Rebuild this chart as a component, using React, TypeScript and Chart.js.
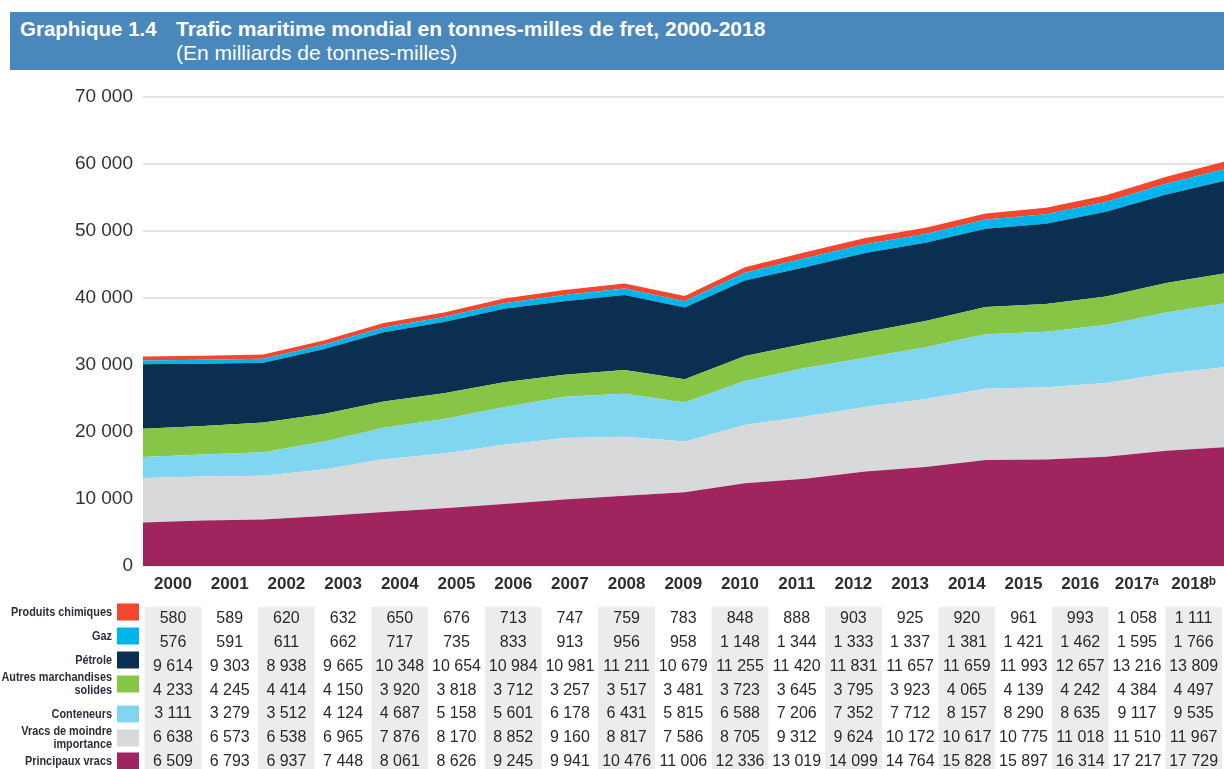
import React, { useEffect, useRef } from "react";
import { Chart, registerables } from "chart.js";

Chart.register(...registerables);

const years = ["2000", "2001", "2002", "2003", "2004", "2005", "2006", "2007", "2008", "2009", "2010", "2011", "2012", "2013", "2014", "2015", "2016", "2017ᵃ", "2018ᵇ"];

const chimiques = [580, 589, 620, 632, 650, 676, 713, 747, 759, 783, 848, 888, 903, 925, 920, 961, 993, 1058, 1111];
const gaz = [576, 591, 611, 662, 717, 735, 833, 913, 956, 958, 1148, 1344, 1333, 1337, 1381, 1421, 1462, 1595, 1766];
const petrole = [9614, 9303, 8938, 9665, 10348, 10654, 10984, 10981, 11211, 10679, 11255, 11420, 11831, 11657, 11659, 11993, 12657, 13216, 13809];
const autres = [4233, 4245, 4414, 4150, 3920, 3818, 3712, 3257, 3517, 3481, 3723, 3645, 3795, 3923, 4065, 4139, 4242, 4384, 4497];
const conteneurs = [3111, 3279, 3512, 4124, 4687, 5158, 5601, 6178, 6431, 5815, 6588, 7206, 7352, 7712, 8157, 8290, 8635, 9117, 9535];
const moindre = [6638, 6573, 6538, 6965, 7876, 8170, 8852, 9160, 8817, 7586, 8705, 9312, 9624, 10172, 10617, 10775, 11018, 11510, 11967];
const principaux = [6509, 6793, 6937, 7448, 8061, 8626, 9245, 9941, 10476, 11006, 12336, 13019, 14099, 14764, 15828, 15897, 16314, 17217, 17729];

const yTicks = [0, 10000, 20000, 30000, 40000, 50000, 60000, 70000];

// table rows (top to bottom)
const rowNames = [["Produits chimiques"], ["Gaz"], ["Pétrole"], ["Autres marchandises", "solides"], ["Conteneurs"], ["Vracs de moindre", "importance"], ["Principaux vracs"]];
const rowValues = [chimiques, gaz, petrole, autres, conteneurs, moindre, principaux];
const rowColors = ["#f2472f", "#00b4ec", "#0a2f50", "#86c546", "#80d6f0", "#d8d9db", "#a0245e"];

const fmt = (n: number) => String(n).replace(/\B(?=(\d{3})+(?!\d))/g, " ");
const FONT = "'Liberation Sans', Arial, sans-serif";

const tablePlugin = {
  id: "tablePlugin",
  afterDraw(chart: any) {
    const ctx = chart.ctx;
    const xt = chart.scales.xt;
    const b = chart.chartArea.bottom;
    const w = xt.getPixelForValue(1) - xt.getPixelForValue(0);
    ctx.save();
    ctx.fillStyle = "#ececec";
    years.forEach((_, i) => {
      if (i % 2 === 0) {
        const cx = xt.getPixelForValue(i);
        ctx.fillRect(cx - w / 2, b + 41, w, chart.height - (b + 41));
      }
    });
    const valueY = [53, 77, 101, 125, 148, 172, 196];
    const boxY = [46, 70, 94, 118, 148, 172, 195];
    ctx.textBaseline = "middle";
    ctx.font = `16px ${FONT}`;
    ctx.fillStyle = "#2a2a2a";
    ctx.textAlign = "center";
    rowValues.forEach((vals, r) => {
      vals.forEach((v, i) => {
        ctx.fillText(fmt(v), xt.getPixelForValue(i), b + valueY[r]);
      });
    });
    rowNames.forEach((lines, r) => {
      ctx.fillStyle = rowColors[r];
      ctx.fillRect(117, b + boxY[r] - 8.5, 22, 17);
    });
    // condensed legend labels
    ctx.save();
    ctx.translate(112, 0);
    ctx.scale(0.87, 1);
    ctx.font = `bold 12.5px ${FONT}`;
    ctx.textAlign = "right";
    ctx.fillStyle = "#2a2f3a";
    rowNames.forEach((lines, r) => {
      if (lines.length === 1) {
        ctx.fillText(lines[0], 0, b + boxY[r] + 1);
      } else {
        ctx.fillText(lines[0], 0, b + boxY[r] - 6);
        ctx.fillText(lines[1], 0, b + boxY[r] + 7);
      }
    });
    ctx.restore();
    ctx.restore();
  },
};

export default function App() {
  const ref = useRef<HTMLCanvasElement | null>(null);
  useEffect(() => {
    if (!ref.current) return;
    const series = [
      { label: "Principaux vracs", data: principaux, color: rowColors[6] },
      { label: "Vracs de moindre importance", data: moindre, color: rowColors[5] },
      { label: "Conteneurs", data: conteneurs, color: rowColors[4] },
      { label: "Autres marchandises solides", data: autres, color: rowColors[3] },
      { label: "Pétrole", data: petrole, color: rowColors[2] },
      { label: "Gaz", data: gaz, color: rowColors[1] },
      { label: "Produits chimiques", data: chimiques, color: rowColors[0] },
    ];
    const chart = new Chart(ref.current, {
      type: "line",
      data: {
        datasets: series.map((s, k) => ({
          label: s.label,
          data: s.data.map((v, i) => ({ x: i, y: v })),
          backgroundColor: s.color,
          borderColor: s.color,
          borderWidth: 0,
          pointRadius: 0,
          tension: 0,
          fill: k === 0 ? "origin" : "-1",
          xAxisID: "x",
          yAxisID: "y",
        })),
      },
      options: {
        animation: false,
        responsive: true,
        maintainAspectRatio: false,
        layout: { padding: { left: 0, right: 0, top: 97, bottom: 173 } },
        plugins: { legend: { display: false }, tooltip: { enabled: false } },
        scales: {
          x: { type: "linear", min: 0, max: 17.96, display: false },
          xt: {
            type: "linear",
            position: "bottom",
            min: -0.529,
            max: 18.536,
            grid: { display: false, drawTicks: false },
            border: { display: false },
            afterBuildTicks: (scale: any) => {
              scale.ticks = years.map((_, i) => ({ value: i }));
            },
            afterFit: (scale: any) => {
              scale.height = 30;
            },
            ticks: {
              autoSkip: false,
              maxRotation: 0,
              padding: 8,
              color: "#2e2e2e",
              font: { family: FONT, size: 17, weight: "bold" },
              callback: (v: any) => years[v] ?? "",
            },
          },
          y: {
            type: "linear",
            stacked: true,
            min: 0,
            max: 70000,
            afterBuildTicks: (scale: any) => {
              scale.ticks = yTicks.map((v) => ({ value: v }));
            },
            afterFit: (scale: any) => {
              scale.width = 143;
            },
            grid: { color: "#e4e4e4", lineWidth: 2, drawTicks: false },
            border: { display: false },
            ticks: {
              padding: 10,
              color: "#333333",
              font: { family: FONT, size: 19 },
              callback: (v: any) => fmt(Number(v)),
            },
          },
        },
      } as any,
      plugins: [tablePlugin],
    });
    return () => chart.destroy();
  }, []);

  return (
    <div style={{ position: "absolute", left: 0, top: 0, width: 1224, height: 769, background: "#fff", fontFamily: FONT }}>
      <canvas ref={ref} style={{ position: "absolute", left: 0, top: 0 }} />
      <div style={{ position: "absolute", left: 10, top: 12, width: 1214, height: 58, background: "#4a87ba", color: "#fff" }}>
        <div style={{ position: "absolute", left: 10, top: 5, fontSize: 20.5, fontWeight: "bold", whiteSpace: "nowrap" }}>Graphique 1.4</div>
        <div style={{ position: "absolute", left: 166, top: 5, fontSize: 21, fontWeight: "bold", whiteSpace: "nowrap" }}>
          Trafic maritime mondial en tonnes-milles de fret, 2000-2018
        </div>
        <div style={{ position: "absolute", left: 166, top: 29, fontSize: 21, whiteSpace: "nowrap" }}>(En milliards de tonnes-milles)</div>
      </div>
    </div>
  );
}
